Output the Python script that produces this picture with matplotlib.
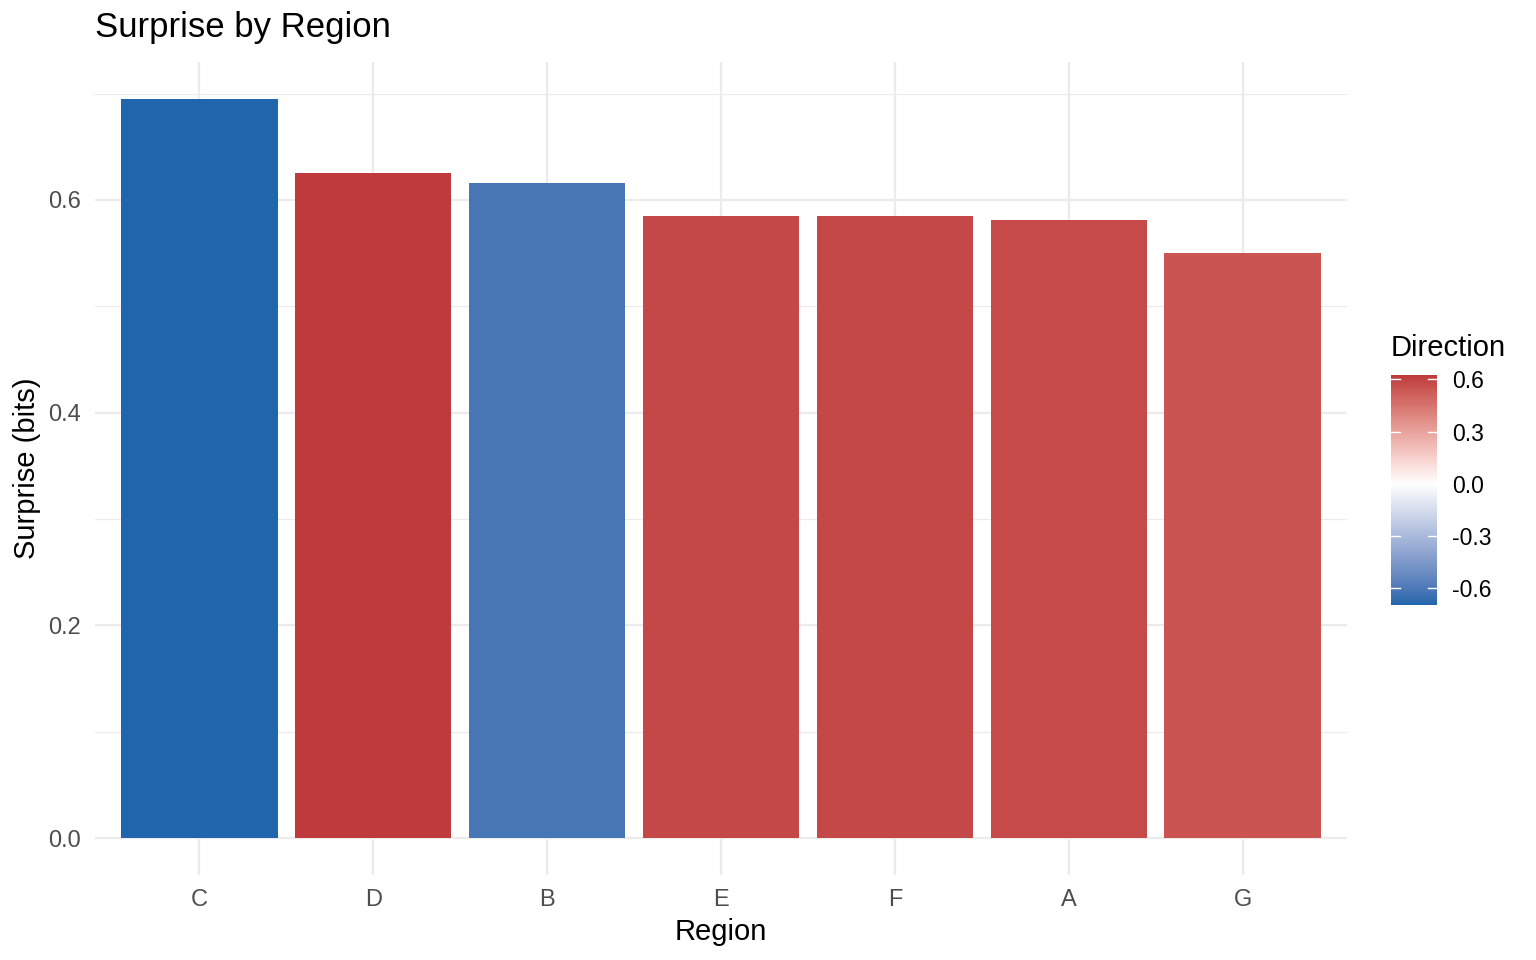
import numpy as np
import matplotlib
matplotlib.use("Agg")
import matplotlib.pyplot as plt
from matplotlib.colors import ListedColormap, Normalize, to_rgb
from matplotlib.cm import ScalarMappable

plt.rcParams['font.family'] = ['Liberation Sans', 'DejaVu Sans']

# data
regions = ['C', 'D', 'B', 'E', 'F', 'A', 'G']
surprise = [0.695, 0.625, 0.616, 0.585, 0.585, 0.581, 0.550]
direction = [-0.695, 0.625, -0.616, 0.585, 0.585, 0.581, 0.550]


# --- Lab interpolation like ggplot's gradient2 ---
M = np.array([[0.4124, 0.3576, 0.1805],
              [0.2126, 0.7152, 0.0722],
              [0.0193, 0.1192, 0.9505]])
WHITE = M @ np.ones(3)


def rgb2lab(c):
    c = np.asarray(c, float)
    lin = np.where(c <= 0.04045, c/12.92, ((c + 0.055)/1.055)**2.4)
    xyz = (M @ lin.T).T / WHITE
    f = np.where(xyz > (6/29)**3, np.cbrt(xyz), xyz/(3*(6/29)**2) + 4/29)
    return np.stack([116*f[..., 1] - 16, 500*(f[..., 0] - f[..., 1]),
                     200*(f[..., 1] - f[..., 2])], -1)


def lab2rgb(lab):
    L, a, b = lab[..., 0], lab[..., 1], lab[..., 2]
    fy = (L + 16)/116
    f = np.stack([fy + a/500, fy, fy - b/200], -1)
    xyz = np.where(f > 6/29, f**3, 3*(6/29)**2*(f - 4/29)) * WHITE
    lin = (np.linalg.inv(M) @ xyz.T).T
    lin = np.clip(lin, 0, 1)
    return np.clip(np.where(lin <= 0.0031308, 12.92*lin,
                            1.055*lin**(1/2.4) - 0.055), 0, 1)


stops = rgb2lab([to_rgb('#2166AC'), to_rgb('#FFFFFF'), to_rgb('#B2182B')])
m = max(abs(d) for d in direction)


def fill(v):
    t = (np.asarray(v, float) / m + 1) / 2   # 0..1, midpoint 0.5
    t2 = np.clip(t*2, 0, 2)
    lo = np.where(t2 < 1, 0, 1)
    w = (t2 - lo)[..., None]
    lab = stops[lo]*(1 - w) + stops[lo + 1]*w
    return lab2rgb(lab)


dmin, dmax = min(direction), max(direction)
cmap = ListedColormap(fill(np.linspace(dmin, dmax, 256)))
norm = Normalize(dmin, dmax)

fig = plt.figure(figsize=(15.36, 9.6), dpi=100)
ax = fig.add_axes([95/1536, 1 - 875/960, (1347-95)/1536, (875-62)/960])

x = np.arange(1, len(regions) + 1)
ax.bar(x, surprise, width=0.9, color=fill(direction), zorder=3)

ax.set_xlim(0.4, len(regions) + 0.6)
top = max(surprise)
ax.set_ylim(-0.05*top, 1.05*top)
ax.set_xticks(x)
ax.set_xticklabels(regions)
ax.set_yticks([0, 0.2, 0.4, 0.6])
ax.set_yticklabels(['0.0', '0.2', '0.4', '0.6'])
ax.set_yticks([0.1, 0.3, 0.5, 0.7], minor=True)

ax.grid(True, which='major', color='#EBEBEB', linewidth=1.6, zorder=0)
ax.grid(True, which='minor', axis='y', color='#EBEBEB', linewidth=0.8, zorder=0)
for s in ax.spines.values():
    s.set_visible(False)
ax.tick_params(which='both', length=0, labelsize=17, labelcolor='#4D4D4D', pad=10)
ax.tick_params(axis='x', pad=10)

ax.set_xlabel('Region', fontsize=21, labelpad=5)
ax.set_ylabel('Surprise (bits)', fontsize=21, labelpad=5)
fig.text(95/1536, 1 - 28/960, 'Surprise by Region', fontsize=25, va='center', ha='left')

# colour bar
cax = fig.add_axes([1391/1536, 1 - 605/960, 46/1536, 230/960])
sm = ScalarMappable(norm=norm, cmap=cmap)
cb = fig.colorbar(sm, cax=cax, ticks=[-0.6, -0.3, 0.0, 0.3, 0.6])
cb.outline.set_visible(False)
cb.ax.set_yticklabels(['-0.6', '-0.3', '0.0', '0.3', '0.6'])
cb.ax.tick_params(length=0, labelsize=16.5, pad=11)
for t in [-0.6, -0.3, 0.0, 0.3, 0.6]:
    cb.ax.plot([0, 0.2], [t, t], color='white', lw=1, transform=cb.ax.get_yaxis_transform())
    cb.ax.plot([0.8, 1], [t, t], color='white', lw=1, transform=cb.ax.get_yaxis_transform())
fig.text(1391/1536, 1 - 348/960, 'Direction', fontsize=21, va='center', ha='left')

fig.savefig('out.png', dpi=100, facecolor='white')
